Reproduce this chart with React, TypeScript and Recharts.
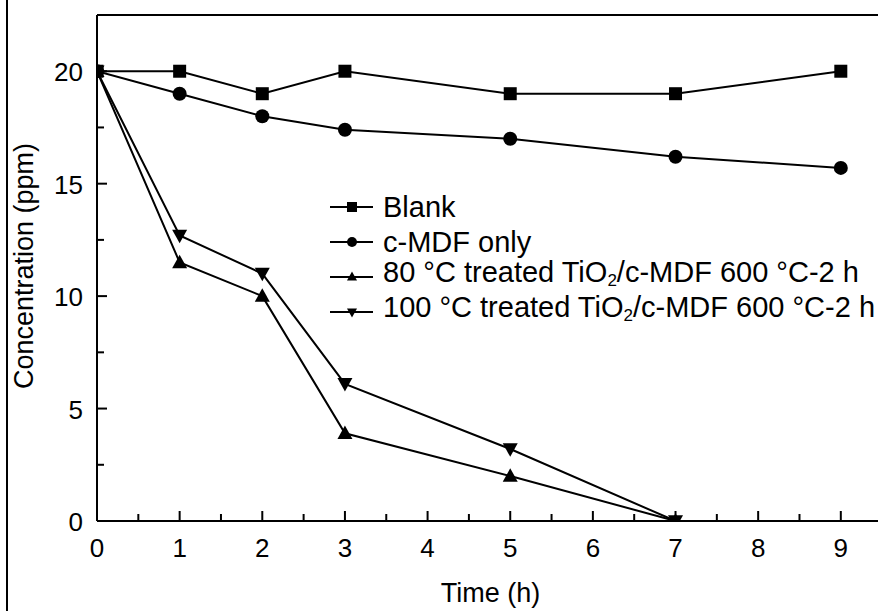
import React from "react";
import { LineChart, Line, XAxis, YAxis, ReferenceLine } from "recharts";

const FONT = "'Liberation Sans', Arial, sans-serif";

const times = [0, 1, 2, 3, 5, 7, 9];
const blank = [20, 20, 19, 20, 19, 19, 20];
const cmdf = [20, 19, 18, 17.4, 17, 16.2, 15.7];
const treated80 = [20, 11.5, 10, 3.9, 2, 0, null];
const treated100 = [20, 12.7, 11, 6.1, 3.2, 0, null];

const xTicks = [0, 0.5, 1, 1.5, 2, 2.5, 3, 3.5, 4, 4.5, 5, 5.5, 6, 6.5, 7, 7.5, 8, 8.5, 9];
const yTicks = [0, 2.5, 5, 7.5, 10, 12.5, 15, 17.5, 20];

const data = times.map((t, i) => ({
  t,
  blank: blank[i],
  cmdf: cmdf[i],
  t80: treated80[i],
  t100: treated100[i],
}));

type ShapeKind = "square" | "circle" | "up" | "down";

function marker(kind: ShapeKind, cx: number, cy: number, s: number, key?: string) {
  if (kind === "square")
    return <rect key={key} x={cx - s / 2} y={cy - s / 2} width={s} height={s} fill="#000" />;
  if (kind === "circle") return <circle key={key} cx={cx} cy={cy} r={s / 2} fill="#000" />;
  const h = s * 0.9;
  if (kind === "up")
    return (
      <polygon
        key={key}
        points={`${cx},${cy - h / 2 - 1} ${cx - s / 2},${cy + h / 2 - 1} ${cx + s / 2},${cy + h / 2 - 1}`}
        fill="#000"
      />
    );
  return (
    <polygon
      key={key}
      points={`${cx},${cy + h / 2 + 1} ${cx - s / 2},${cy - h / 2 + 1} ${cx + s / 2},${cy - h / 2 + 1}`}
      fill="#000"
    />
  );
}

const makeDot = (kind: ShapeKind, size: number) => (props: any) => {
  const { cx, cy, index, value } = props;
  if (value == null || cx == null || cy == null) return <g key={`n${index}`} />;
  return marker(kind, cx, cy, size, `${kind}${index}`);
};

const series = [
  { key: "blank", name: "Blank", kind: "square" as ShapeKind, size: 13 },
  { key: "cmdf", name: "c-MDF only", kind: "circle" as ShapeKind, size: 14 },
  { key: "t80", name: "80 °C treated TiO|2|/c-MDF 600 °C-2 h", kind: "up" as ShapeKind, size: 15 },
  { key: "t100", name: "100 °C treated TiO|2|/c-MDF 600 °C-2 h", kind: "down" as ShapeKind, size: 15 },
];

function XTick(props: any) {
  const { x, y, payload } = props;
  const v = payload.value;
  const major = Number.isInteger(v);
  return (
    <g>
      <line x1={x} x2={x} y1={y} y2={y - (major ? 10 : 7)} stroke="#000" strokeWidth={2} />
      {major && (
        <text x={x} y={y + 36} textAnchor="middle" fontSize={26} fontFamily={FONT} fill="#000">
          {v}
        </text>
      )}
    </g>
  );
}

function YTick(props: any) {
  const { x, y, payload } = props;
  const v = payload.value;
  const major = v % 5 === 0;
  return (
    <g>
      <line x1={x} x2={x + (major ? 10 : 7)} y1={y} y2={y} stroke="#000" strokeWidth={2} />
      {major && (
        <text x={x - 14} y={y + 10} textAnchor="end" fontSize={26} fontFamily={FONT} fill="#000">
          {v}
        </text>
      )}
    </g>
  );
}

function renderName(name: string) {
  const parts = name.split("|");
  if (parts.length === 1) return name;
  return (
    <>
      {parts[0]}
      <sub style={{ fontSize: 17, verticalAlign: "-4px" }}>{parts[1]}</sub>
      {parts[2]}
    </>
  );
}

function LegendBox() {
  return (
    <div
      style={{
        position: "absolute",
        left: 330,
        top: 189,
        fontFamily: FONT,
        fontSize: 29,
        color: "#000",
      }}
    >
      {series.map((s) => (
        <div key={s.key} style={{ display: "flex", alignItems: "center", height: 35 }}>
          <svg width={53} height={20}>
            <line x1={0} x2={43} y1={10} y2={10} stroke="#000" strokeWidth={2} />
            {marker(s.kind, 22, 10, 10)}
          </svg>
          <span style={{ whiteSpace: "nowrap", lineHeight: "30px" }}>{renderName(s.name)}</span>
        </div>
      ))}
    </div>
  );
}

export default function App() {
  return (
    <div
      style={{
        position: "absolute",
        left: 0,
        top: 0,
        width: 878,
        height: 611,
        overflow: "hidden",
        background: "#fff",
      }}
    >
      <div style={{ position: "absolute", left: 6, top: 0, width: 2, height: 611, background: "#000" }} />
      <LineChart width={878} height={611} data={data} margin={{ top: 15, right: 0, bottom: 0, left: 0 }}>
        <XAxis
          dataKey="t"
          type="number"
          domain={[0, 9.45]}
          ticks={xTicks}
          interval={0}
          allowDataOverflow
          height={90}
          tickSize={0}
          tickMargin={0}
          tick={<XTick />}
          axisLine={{ stroke: "#000", strokeWidth: 2 }}
          label={{
            content: (p: any) => (
              <text
                x={p.viewBox.x + p.viewBox.width / 2 + 3}
                y={602}
                textAnchor="middle"
                fontSize={27}
                fontFamily={FONT}
                fill="#000"
              >
                Time (h)
              </text>
            ),
          }}
        />
        <YAxis
          type="number"
          domain={[0, 22.5]}
          ticks={yTicks}
          interval={0}
          allowDataOverflow
          width={97}
          tickSize={0}
          tickMargin={0}
          tick={<YTick />}
          axisLine={{ stroke: "#000", strokeWidth: 2 }}
          label={{
            content: () => (
              <text
                x={33}
                y={266}
                transform="rotate(-90 33 266)"
                textAnchor="middle"
                fontSize={27}
                fontFamily={FONT}
                fill="#000"
              >
                Concentration (ppm)
              </text>
            ),
          }}
        />
        <ReferenceLine y={22.5} stroke="#000" strokeWidth={2} ifOverflow="visible" />
        {series.map((s) => (
          <Line
            key={s.key}
            dataKey={s.key}
            name={s.name}
            type="linear"
            stroke="#000"
            strokeWidth={2}
            dot={makeDot(s.kind, s.size)}
            activeDot={false}
            connectNulls={false}
            isAnimationActive={false}
          />
        ))}
      </LineChart>
      <LegendBox />
    </div>
  );
}
